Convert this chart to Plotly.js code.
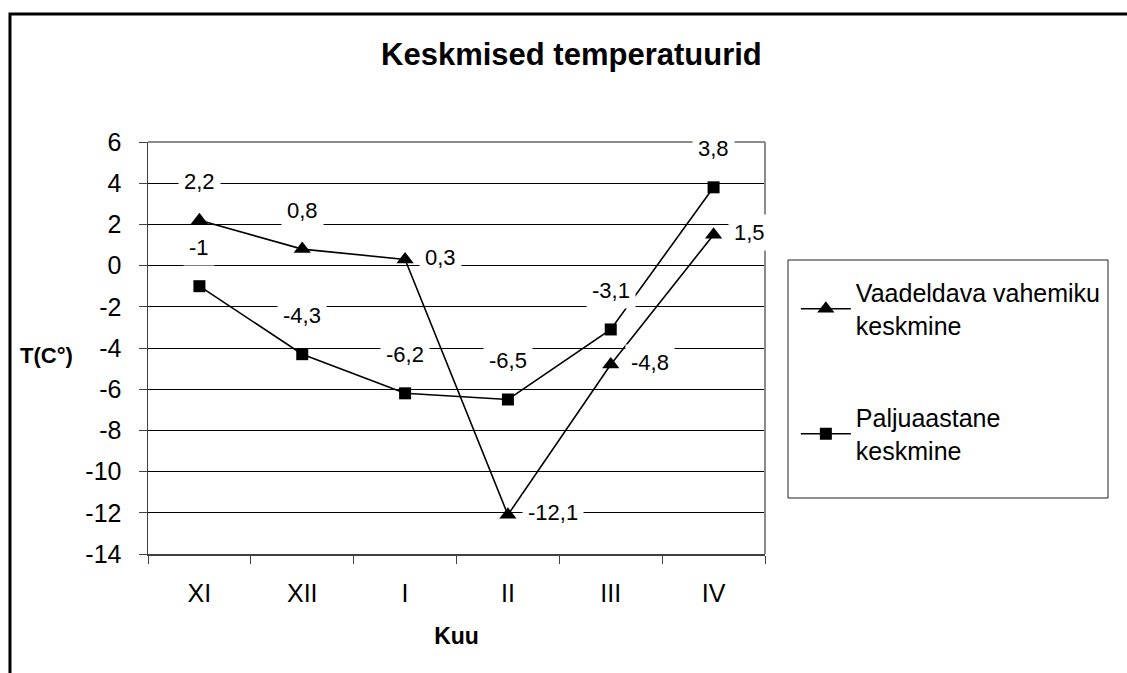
<!DOCTYPE html>
<html>
<head>
<meta charset="utf-8">
<script src="https://cdn.plot.ly/plotly-3.0.1.min.js"></script>
<style>
  html, body { margin: 0; padding: 0; background: #fff; }
  #chart { width: 1127px; height: 673px; }
</style>
</head>
<body>
<div id="chart"></div>
<script>
// ---- data ----
const months = ['XI', 'XII', 'I', 'II', 'III', 'IV'];
const vaadeldava = [2.2, 0.8, 0.3, -12.1, -4.8, 1.5];
const paljuaastane = [-1, -4.3, -6.2, -6.5, -3.1, 3.8];
const yTickVals = [-14, -12, -10, -8, -6, -4, -2, 0, 2, 4, 6];
const yTickText = ['-14', '-12', '-10', '-8', '-6', '-4', '-2', '0', '2', '4', '6'];
const seriesNames = ['Vaadeldava vahemiku<br>keskmine', 'Paljuaastane<br>keskmine'];

// label placement per point (layout only)
const labelPos1 = ['above', 'above', 'right', 'right', 'right', 'right'];
const labelPos2 = ['above', 'above', 'above', 'above', 'above', 'above'];

const FONT = 'Arial, "Liberation Sans", sans-serif';

const traces = [
  {
    x: months, y: vaadeldava, name: seriesNames[0], type: 'scatter',
    mode: 'lines+markers', legendgroup: 'a',
    line: { color: '#000', width: 1.6 },
    marker: { symbol: 'triangle-up', size: 15, color: '#000' },
    hoverinfo: 'skip'
  },
  {
    x: months, y: paljuaastane, name: seriesNames[1], type: 'scatter',
    mode: 'lines+markers', legendgroup: 'b',
    line: { color: '#000', width: 1.6 },
    marker: { symbol: 'square', size: 12, color: '#000' },
    hoverinfo: 'skip'
  }
];

function fmt(v) { return String(v).replace('.', ','); }

function labels(xs, ys, pos) {
  return ys.map((v, i) => {
    const a = {
      x: xs[i], y: v, xref: 'x', yref: 'y', text: fmt(v), showarrow: false,
      font: { family: FONT, size: 22, color: '#000' },
      bgcolor: '#ffffff', borderpad: 5, yanchor: 'middle'
    };
    if (pos[i] === 'above') { a.xanchor = 'center'; a.yshift = 39; }
    else { a.xanchor = 'left'; a.xshift = 14; a.yshift = 2; }
    return a;
  });
}

const annotations = [].concat(
  labels(months, vaadeldava, labelPos1),
  labels(months, paljuaastane, labelPos2),
  [{
    text: '<b>T(C°)</b>', xref: 'paper', yref: 'paper', x: -0.165, y: 0.483,
    xanchor: 'center', yanchor: 'middle', showarrow: false,
    font: { family: FONT, size: 22, color: '#000' }
  }]
);

const shapes = [
  // outer chart frame (left + top)
  { type: 'path', xref: 'paper', yref: 'paper',
    path: 'M -0.2237 -0.35 L -0.2237 1.3107 L 1.62 1.3107',
    line: { color: '#000', width: 3 }, layer: 'above' },
  // plot area top & right border (gray)
  { type: 'line', xref: 'paper', yref: 'paper', x0: 0, x1: 1, y0: 1, y1: 1,
    line: { color: '#8c8c8c', width: 2 }, layer: 'above' },
  { type: 'line', xref: 'paper', yref: 'paper', x0: 1, x1: 1, y0: 0, y1: 1,
    line: { color: '#8c8c8c', width: 2 }, layer: 'above' },
  // legend box
  { type: 'rect', xref: 'paper', yref: 'paper', x0: 1.0373, x1: 1.5559, y0: 0.1359, y1: 0.7136,
    line: { color: '#222', width: 1 }, fillcolor: 'rgba(0,0,0,0)', layer: 'above' }
];

const layout = {
  width: 1127, height: 673,
  margin: { l: 148, r: 362, t: 142, b: 119 },
  paper_bgcolor: '#fff', plot_bgcolor: '#fff',
  font: { family: FONT, color: '#000' },
  title: {
    text: '<b>Keskmised temperatuurid</b>',
    font: { family: FONT, size: 31, color: '#000' },
    xref: 'container', yref: 'container', x: 0.507, y: 1 - 54 / 673,
    xanchor: 'center', yanchor: 'middle'
  },
  xaxis: {
    type: 'category', range: [-0.5, 5.5], tickson: 'boundaries',
    ticks: 'outside', ticklen: 8, tickcolor: '#404040', tickwidth: 1,
    showline: true, linecolor: '#404040', linewidth: 1.5,
    showgrid: false, zeroline: false,
    tickfont: { family: FONT, size: 25, color: '#000' },
    ticklabelstandoff: 16,
    title: { text: '<b>Kuu</b>', font: { family: FONT, size: 23, color: '#000' }, standoff: 22 },
    fixedrange: true
  },
  yaxis: {
    range: [-14, 6], tickvals: yTickVals, ticktext: yTickText,
    ticks: 'outside', ticklen: 8, tickcolor: '#404040', tickwidth: 1,
    showline: true, linecolor: '#404040', linewidth: 1.5,
    showgrid: true, gridcolor: '#000', gridwidth: 1, zeroline: false,
    tickfont: { family: FONT, size: 25, color: '#000' },
    ticklabelstandoff: 12,
    fixedrange: true
  },
  showlegend: true,
  legend: {
    x: 1.05, y: 0.69, xanchor: 'left', yanchor: 'top',
    bgcolor: 'rgba(0,0,0,0)', borderwidth: 0,
    font: { family: FONT, size: 25, color: '#000' },
    traceorder: 'grouped', tracegroupgap: 57, valign: 'middle',
    itemwidth: 50
  },
  annotations: annotations,
  shapes: shapes
};

Plotly.newPlot('chart', traces, layout, { displayModeBar: false, staticPlot: true });
</script>
</body>
</html>
